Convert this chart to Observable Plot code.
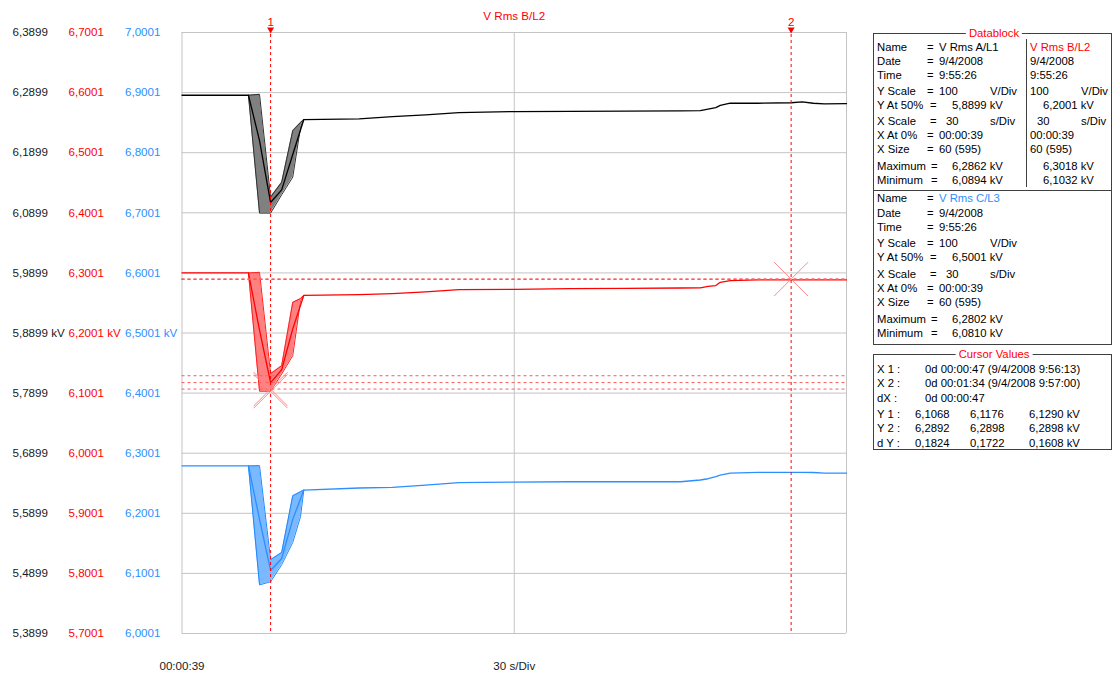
<!DOCTYPE html>
<html><head><meta charset="utf-8">
<script src="https://cdn.jsdelivr.net/npm/d3@7"></script>
<script src="https://cdn.jsdelivr.net/npm/@observablehq/plot@0.6"></script>
<style>
body{margin:0;background:#fff;}
#wrap{position:relative;width:1114px;height:677px;overflow:hidden;font-family:"Liberation Sans",Arial,sans-serif;font-size:11.3px;color:#000;}
#chart{position:absolute;left:0;top:0;}
.box{position:absolute;border:1px solid #404040;box-sizing:border-box;}
.ln{position:absolute;background:#404040;}
.t{position:absolute;white-space:pre;line-height:14px;height:14px;}
.ttl{position:absolute;background:#fff;color:#f00;padding:0 3px;line-height:14px;transform:translateX(-50%);white-space:pre;}
</style></head><body><div id="wrap"><div id="chart"></div><div id="panel"></div></div>
<script>
// ---------- data ----------
const blackTicks = [5.3899,5.4899,5.5899,5.6899,5.7899,5.8899,5.9899,6.0899,6.1899,6.2899,6.3899];
const redTicks   = [5.7001,5.8001,5.9001,6.0001,6.1001,6.2001,6.3001,6.4001,6.5001,6.6001,6.7001];
const blueTicks  = [6.0001,6.1001,6.2001,6.3001,6.4001,6.5001,6.6001,6.7001,6.8001,6.9001,7.0001];
const xGrid = [0, 30, 60];               // seconds from X At 0%
const xLabels = ["00:00:39", "30 s/Div"];

// min/max envelope during the dip (seconds, kV)
const bandT   = [6, 7, 8, 9, 10, 10.7, 11];
const blackHi = [6.2855, 6.2870, 6.1160, 6.1407, 6.2266, 6.2401, 6.2451];
const blackLo = [6.2855, 6.0894, 6.0894, 6.1199, 6.1493, 6.2322, 6.2451];
const redHi   = [6.3000, 6.3010, 6.1325, 6.1458, 6.2511, 6.2573, 6.2628];
const redLo   = [6.3000, 6.1032, 6.1032, 6.1319, 6.1624, 6.2540, 6.2628];
const blueHi  = [6.2790, 6.2793, 6.1230, 6.1349, 6.2293, 6.2360, 6.2388];
const blueLo  = [6.2790, 6.0810, 6.0862, 6.1145, 6.1516, 6.1944, 6.2388];

// mean traces (seconds, kV)
const lineT = [0, 3, 6, 7, 8, 9, 10, 11, 16, 19, 22, 25, 30, 35, 40, 45, 46.8, 47.5, 48.2, 48.6, 49.5, 52, 55, 56, 57, 58, 60];
const blackV = [6.2855,6.2855,6.2855,6.2100,6.1070,6.1280,6.1870,6.2451,6.2463,6.2500,6.2527,6.2565,6.2584,6.2588,6.2592,6.2596,6.2600,6.2625,6.2650,6.2685,6.2722,6.2722,6.2730,6.2745,6.2722,6.2712,6.2715];
const redV   = [6.3000,6.3000,6.3000,6.2050,6.1176,6.1390,6.2070,6.2628,6.2639,6.2656,6.2684,6.2723,6.2728,6.2739,6.2745,6.2750,6.2751,6.2777,6.2790,6.2844,6.2873,6.2884,6.2884,6.2886,6.2884,6.2884,6.2884];
const blueV  = [6.2790,6.2790,6.2790,6.1900,6.1050,6.1250,6.1900,6.2388,6.2422,6.2432,6.2471,6.2510,6.2521,6.2526,6.2526,6.2526,6.2555,6.2576,6.2610,6.2635,6.2671,6.2681,6.2683,6.2681,6.2680,6.2670,6.2668];

// cursors
const cursorX = [8, 55];
const cursorY1 = [6.1068, 6.1176, 6.1290];
const cursorY2 = [6.2892, 6.2898, 6.2898];
const marker1 = [6.1068, 6.1032];   // X markers at cursor 1 (red scale)
const marker2 = [6.2898];           // X marker at cursor 2 (red scale)
const cursorXText = ["0d 00:00:47 (9/4/2008 9:56:13)", "0d 00:01:34 (9/4/2008 9:57:00)"];
const cursorDX = "0d 00:00:47";

// datablock
const seriesNames = ["V Rms A/L1", "V Rms B/L2", "V Rms C/L3"];
const seriesDate = "9/4/2008";
const seriesTime = "9:55:26";
const yScaleV = 100;
const yAt50 = [5.8899, 6.2001, 6.5001];
const xScaleS = 30;
const xAt0 = "00:00:39";
const xSize = "60 (595)";
const maxima = [6.2862, 6.3018, 6.2802];
const minima = [6.0894, 6.1032, 6.0810];

// ---------- styles ----------
const fmt = v => v.toFixed(4).replace(".", ",");
const redOff = redTicks[0] - blackTicks[0];
const blueOff = blueTicks[0] - blackTicks[0];

function band(hi, lo, off){ return bandT.map((t,i)=>({t, hi:hi[i]-off, lo:lo[i]-off})); }
function line(v, off){ return lineT.map((t,i)=>({t, v:v[i]-off})); }
function tickLabels(ticks){ return ticks.map((v,i)=>({y: blackTicks[i], label: fmt(v) + (i===5 ? " kV" : "")})); }

const series = [
  {band: band(blackHi, blackLo, 0), line: line(blackV, 0), fill:"#808080", edge:"#303030", stroke:"#000"},
  {band: band(redHi, redLo, redOff), line: line(redV, redOff), fill:"#ff8080", edge:"#ff2020", stroke:"#ff0000"},
  {band: band(blueHi, blueLo, blueOff), line: line(blueV, blueOff), fill:"#7ab8ff", edge:"#1e88ff", stroke:"#2b8fff"}
];

const marks = [
  Plot.ruleY(blackTicks, {stroke:"#c4c4c4"}),
  Plot.ruleX(xGrid, {stroke:"#c4c4c4"}),
];
for (const s of series) {
  marks.push(Plot.areaY(s.band, {x:"t", y1:"lo", y2:"hi", fill:s.fill}));
  marks.push(Plot.line(s.band, {x:"t", y:"lo", stroke:s.edge, strokeWidth:1}));
  marks.push(Plot.line(s.band, {x:"t", y:"hi", stroke:s.edge, strokeWidth:1}));
  marks.push(Plot.line(s.line, {x:"t", y:"v", stroke:s.stroke, strokeWidth:1.3}));
}
const hCursors = [...cursorY1, ...cursorY2].map(v => v - redOff);
marks.push(
  Plot.ruleY(hCursors, {stroke:"#ff5a5a", strokeDasharray:"3,3"}),
  Plot.ruleX(cursorX, {stroke:"#ff0000", strokeDasharray:"3,3", insetTop:-4}),
  Plot.dot(cursorX, {x:d=>d, frameAnchor:"top", dy:-3, symbol:"triangle", rotate:180, r:2.6, fill:"#ff0000"}),
  Plot.text(cursorX, {x:d=>d, text:(d,i)=>String(i+1), frameAnchor:"top", lineAnchor:"middle", dy:-10, fill:"#ff0000", fontSize:11.6}),
  Plot.dot([...marker1.map(v=>({t:cursorX[0], v:v-redOff})), ...marker2.map(v=>({t:cursorX[1], v:v-redOff}))],
    {x:"t", y:"v", symbol:"times", r:15.5, stroke:"#ff8a8a", strokeWidth:1}),
  Plot.text(tickLabels(blackTicks), {y:"y", text:"label", frameAnchor:"left", textAnchor:"start", dx:-169.5, fill:"#1a1a1a", fontSize:11.6}),
  Plot.text(tickLabels(redTicks), {y:"y", text:"label", frameAnchor:"left", textAnchor:"start", dx:-113.5, fill:"#ff0000", fontSize:11.6}),
  Plot.text(tickLabels(blueTicks), {y:"y", text:"label", frameAnchor:"left", textAnchor:"start", dx:-57, fill:"#2b8fff", fontSize:11.6}),
  Plot.text(["V Rms B/L2"], {frameAnchor:"top", lineAnchor:"middle", dy:-16, fill:"#ff0000", fontSize:11.6}),
  Plot.text(xLabels.map((l,i)=>({t:xGrid[i], l})), {x:"t", text:"l", frameAnchor:"bottom", lineAnchor:"middle", dy:33, fill:"#1a1a1a", fontSize:11.6})
);

const chart = Plot.plot({
  width:1114, height:677,
  marginLeft:181.5, marginRight:268, marginTop:32, marginBottom:44,
  x:{domain:[xGrid[0], xGrid[2]], axis:null},
  y:{domain:[blackTicks[0], blackTicks[10]], axis:null},
  style:{fontFamily:'"Liberation Sans", Arial, sans-serif', background:"white", overflow:"visible"},
  marks
});
document.getElementById("chart").appendChild(chart);

// ---------- datablock panel ----------
const panel = document.getElementById("panel");
function el(cls, x, y, text, color, extra){
  const d = document.createElement("div");
  d.className = cls; d.textContent = text;
  d.style.left = x + "px"; d.style.top = (y - 7) + "px";
  if (color) d.style.color = color;
  if (extra) Object.assign(d.style, extra);
  panel.appendChild(d); return d;
}
function box(x, y, w, h){ const d=document.createElement("div"); d.className="box"; Object.assign(d.style,{left:x+"px",top:y+"px",width:w+"px",height:h+"px"}); panel.appendChild(d); }
function ln(x, y, w, h){ const d=document.createElement("div"); d.className="ln"; Object.assign(d.style,{left:x+"px",top:y+"px",width:w+"px",height:h+"px"}); panel.appendChild(d); }

box(873, 33, 239, 312);
ln(1026, 39, 1, 148);
ln(873, 190, 239, 1);
box(873, 354, 239, 96);
el("ttl", 994, 33, "Datablock");
el("ttl", 994, 354, "Cursor Values");

const rowLabels = ["Name","Date","Time","Y Scale","Y At 50%","X Scale","X At 0%","X Size","Maximum","Minimum"];
const eqX = [927, 927, 927, 927, 930, 930, 927, 927, 931, 931];
const rowsA = [46.7, 60.7, 74.7, 91, 104.7, 121, 135, 149, 166, 180];
const rowsC = [198.3, 213, 227, 243, 256.7, 273.7, 288, 302, 318.7, 333];
const seriesColors = [null, "#ff0000", "#2b8fff"];

function column(si, rows, withLabels, xs){
  const nameColor = si === 0 ? null : seriesColors[si];
  if (withLabels) {
    rowLabels.forEach((l,i)=>{ el("t", 877, rows[i], l); el("t", eqX[i], rows[i], "="); });
  }
  el("t", xs.val, rows[0], seriesNames[si], nameColor);
  el("t", xs.val, rows[1], seriesDate);
  el("t", xs.val, rows[2], seriesTime);
  el("t", xs.val, rows[3], String(yScaleV)); el("t", xs.unit, rows[3], "V/Div");
  el("t", xs.num, rows[4], fmt(yAt50[si]) + " kV");
  el("t", xs.s30, rows[5], String(xScaleS)); el("t", xs.unit, rows[5], "s/Div");
  el("t", xs.val, rows[6], xAt0);
  el("t", xs.val, rows[7], xSize);
  el("t", xs.num, rows[8], fmt(maxima[si]) + " kV");
  el("t", xs.num, rows[9], fmt(minima[si]) + " kV");
}
column(0, rowsA, true, {val:939, num:952, s30:946, unit:990});
column(1, rowsA, false, {val:1030, num:1043, s30:1037, unit:1081});
column(2, rowsC, true, {val:939, num:952, s30:946, unit:990});

const cRows = [369, 383, 397.7, 413.7, 428, 442.7];
const cLabels = ["X 1 :", "X 2 :", "dX :", "Y 1 :", "Y 2 :", "d Y :"];
cLabels.forEach((l,i)=> el("t", 877, cRows[i], l));
el("t", 925, cRows[0], cursorXText[0]);
el("t", 925, cRows[1], cursorXText[1]);
el("t", 925, cRows[2], cursorDX);
const yCols = [915, 970, 1029];
const dY = cursorY2.map((v,i)=> v - cursorY1[i]);
[cursorY1, cursorY2, dY].forEach((arr, r)=>{
  arr.forEach((v,i)=> el("t", yCols[i], cRows[3+r], fmt(v) + (i===2 ? " kV" : "")));
});
</script></body></html>
